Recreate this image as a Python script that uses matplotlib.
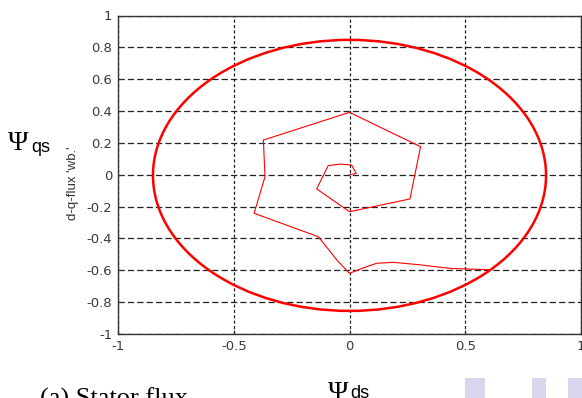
import matplotlib
matplotlib.use("Agg")
import matplotlib.pyplot as plt
from matplotlib.patches import Ellipse, Rectangle

plt.rcParams['axes.unicode_minus'] = False

# outer steady-state flux circle: centre and extent
circle_center = (0.0, -0.004)
circle_width = 1.698
circle_height = 1.702

# start-up trajectory from the origin out to the circle
traj_x = [0.0, 0.029, 0.009, -0.041, -0.092, -0.142, 0.0, 0.261, 0.307, 0.0,
          -0.372, -0.365, -0.412, -0.135, -0.09, -0.055, 0.0, 0.06, 0.117, 0.19,
          0.30, 0.434, 0.61]
traj_y = [0.0, 0.009, 0.061, 0.067, 0.057, -0.089, -0.232, -0.152, 0.176, 0.392,
          0.218, -0.012, -0.242, -0.389, -0.47, -0.535, -0.619, -0.585, -0.556, -0.55,
          -0.565, -0.588, -0.597]

xticks = [-1, -0.5, 0, 0.5, 1]
xticklabels = ['-1', '-0.5', '0', '0.5', '1']
yticks = [-1, -0.8, -0.6, -0.4, -0.2, 0, 0.2, 0.4, 0.6, 0.8, 1]
yticklabels = ['-1', '-0.8', '-0.6', '-0.4', '-0.2', '0', '0.2', '0.4', '0.6', '0.8', '1']

fig = plt.figure(figsize=(5.82, 3.98), dpi=100)
ax = fig.add_axes([118 / 582, 64 / 398, 463 / 582, 318.5 / 398])

ax.add_patch(Ellipse(circle_center, circle_width, circle_height, fill=False,
                     edgecolor='red', lw=1.8, zorder=3))
ax.plot(traj_x, traj_y, color='red', lw=0.8, zorder=3)

ax.set_xlim(-1, 1)
ax.set_ylim(-1, 1)
ax.set_xticks(xticks)
ax.set_xticklabels(xticklabels)
ax.set_yticks(yticks)
ax.set_yticklabels(yticklabels)
ax.tick_params(direction='in', length=3, labelsize=9.5, labelcolor='#3a3a3a',
               colors='#333333', pad=4, labelfontfamily='DejaVu Sans')

ax.xaxis.grid(True, color='#222222', linestyle=(0, (2.5, 1.8)), lw=0.9)
ax.yaxis.grid(True, color='#222222', linestyle=(0, (5, 2.5)), lw=0.9)
for s in ax.spines.values():
    s.set_color('#333333')
    s.set_linewidth(1.0)

ax.set_ylabel("d-q-flux 'wb.'", fontsize=9.5, family='Liberation Sans', color='#333333')
ax.yaxis.set_label_coords(-0.085, 0.474)

# axis symbols and caption
fig.text(8 / 582, 1 - 150 / 398, '\u03a8', fontsize=20, family='Liberation Serif', va='baseline')
fig.text(31 / 582, 1 - 152 / 398, 'qs', fontsize=13, family='Liberation Sans', va='baseline')
fig.text(328 / 582, 1 - 400 / 398, '\u03a8', fontsize=20, family='Liberation Serif', va='baseline')
fig.text(350 / 582, 1 - 398 / 398, 'ds', fontsize=13, family='Liberation Sans', va='baseline')
fig.text(40 / 582, 1 - 406 / 398, '(a) Stator flux', fontsize=19, family='Liberation Serif', va='baseline')

# faint lavender blocks from the page below the figure
for x0, w in [(465, 20), (532, 14), (568, 14)]:
    fig.patches.append(Rectangle((x0 / 582, 0), w / 582, 20 / 398, transform=fig.transFigure,
                                 color='#d8d6ec', lw=0))

fig.savefig('out.png', dpi=100)
